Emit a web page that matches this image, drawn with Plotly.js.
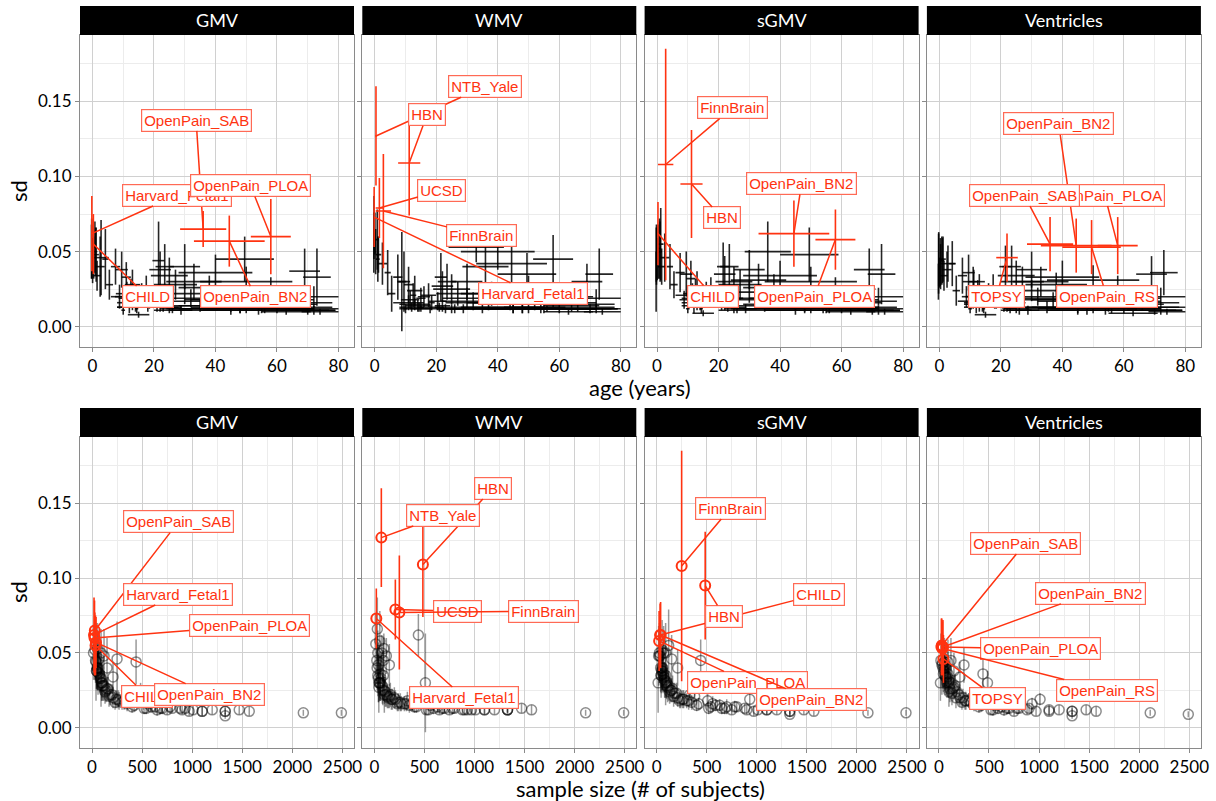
<!DOCTYPE html>
<html><head><meta charset="utf-8">
<script src="https://cdn.plot.ly/plotly-3.0.1.min.js"></script>
<style>html,body{margin:0;padding:0;background:#fff}#chart{width:1216px;height:801px}</style>
</head><body><div id="chart"></div>
<script>
// ---------------- DATA ----------------
const measures = ['GMV', 'WMV', 'sGMV', 'Ventricles'];
const studyNames = ['Harvard_Fetal1','CHILD','NTB_Yale','UCSD','FinnBrain','dHCP','BCP','IBIS','Infant_MGH','Harvard_Fetal2',
 'ONE','Preschool','Preschool2','Fetal3','HBN','CCNP','PING','ABCD','NIH_PD','PNC',
 'IMAGEN','ABIDE','ADHD200','CoRR','HCP_D','Kids_A','Kids_B','Kids_C','Kids_D','Teen_A',
 'Teen_B','Youth_A','TOPSY','HCP','YA_A','YA_B','YA_C','YA_D','YA_E','YA_F',
 'NKI','CamCAN','OpenPain_SAB','OpenPain_BN2','OpenPain_PLOA','OpenPain_RS','SALD','AOMIC','IXI','OASIS',
 'ADNI','UKB','AIBL','DLBS','Adult_A','Adult_B','Adult_C','Older_A','Older_B','Older_C',
 'Older_D','Life_A','Life_B','Life_C','Adult_D','Adult_E','Adult_F','Adult_G','Adult_H','Young_I',
 'K1','K2','K3','K4','K5','A1','A2','A3','A4','A5'];
const ageMean = [-0.2,0.3,0.4,1.5,2.8,0.05,1.2,1.0,0.8,-0.25,
 2.5,4.2,5.5,-0.3,11.2,8.8,12.0,10.0,11.0,15.0,
 14.4,13.0,11.5,18.0,14.0,9.5,11.0,13.0,7.5,16.0,
 17.5,20.5,22.0,28.8,21.5,23.5,25.0,27.0,30.0,32.0,
 35.0,54.0,36.0,44.5,58.0,49.5,45.0,23.0,48.0,70.0,
 74.0,63.0,72.0,52.0,40.0,38.0,50.0,69.0,73.0,72.0,
 66.0,45.0,50.0,56.0,58.0,30.0,37.0,64.0,26.0,21.0,
 12.5,15.0,18.5,22.0,25.0,33.0,44.0,60.0,48.0,55.0];
const ageSd = [0.05,0.15,0.25,1.2,2.5,0.05,0.9,0.6,0.5,0.05,
 1.5,1.0,1.2,0.04,3.6,1.5,4.0,0.6,5.0,3.5,
 0.5,5.0,3.0,10.0,4.0,2.0,1.5,2.5,1.5,2.0,
 2.5,3.0,3.5,3.7,2.0,3.0,6.0,7.0,8.0,10.0,
 20.0,18.0,7.5,11.5,6.5,9.5,17.0,2.0,16.0,9.0,
 6.0,8.0,7.0,20.0,12.0,10.0,15.0,5.0,4.5,8.0,
 12.0,25.0,22.0,21.0,13.0,5.0,14.0,9.0,4.0,1.5,
 1.0,1.5,1.0,2.5,4.0,9.0,14.0,18.0,24.0,25.0];
const sampleSize = [20,35,70,210,250,440,120,90,55,30,
 150,60,100,15,485,510,700,1100,380,1330,
 1470,560,330,930,630,45,80,110,65,200,
 150,260,45,1100,40,55,85,120,180,240,
 780,650,28,40,25,35,590,880,540,1330,
 2110,2490,1570,320,75,160,100,60,90,210,
 350,970,1200,1330,140,50,300,420,750,800,
 130,170,230,400,520,95,270,680,1010,900];
const gmvSd = [.062,.055,.046,.034,.046,.044,.048,.05,.053,.052,
 .04,.045,.028,.05,.022,.02,.013,.011,.02,.008,
 .012,.016,.019,.013,.014,.038,.033,.028,.04,.022,
 .026,.019,.038,.011,.044,.04,.034,.028,.022,.019,
 .014,.012,.065,.057,.06,.045,.014,.013,.013,.011,
 .01,.01,.011,.018,.036,.026,.03,.037,.033,.02,
 .016,.011,.012,.011,.025,.04,.017,.015,.012,.013,
 .024,.021,.017,.014,.013,.03,.018,.013,.012,.012];
const gmvErr = [.025,.02,.014,.01,.025,.015,.018,.016,.017,.02,
 .02,.02,.01,.018,.008,.008,.004,.003,.006,.002,
 .003,.005,.006,.003,.004,.012,.01,.01,.012,.007,
 .008,.006,.012,.003,.026,.015,.012,.01,.007,.006,
 .004,.004,.012,.017,.025,.015,.004,.003,.004,.003,
 .002,.002,.003,.006,.012,.008,.01,.015,.019,.007,
 .005,.003,.003,.002,.008,.015,.005,.004,.003,.003,
 .008,.007,.005,.004,.004,.012,.006,.004,.003,.003];
const wmvSd = [.073,.05,.127,.079,.077,.062,.048,.045,.058,.066,
 .042,.036,.022,.056,.109,.03,.013,.012,.016,.012,
 .013,.015,.018,.012,.014,.03,.028,.024,.033,.02,
 .021,.017,.027,.012,.033,.03,.025,.022,.019,.017,
 .013,.012,.04,.042,.045,.035,.013,.012,.012,.012,
 .01,.01,.012,.016,.05,.022,.025,.03,.035,.019,
 .015,.012,.012,.012,.02,.03,.016,.014,.012,.013,
 .021,.019,.016,.014,.012,.053,.016,.013,.012,.012];
const wmvErr = [.02,.015,.033,.02,.038,.014,.012,.015,.02,.021,
 .014,.015,.012,.02,.035,.033,.003,.003,.005,.002,
 .003,.004,.006,.003,.004,.02,.012,.01,.015,.007,
 .008,.006,.01,.003,.016,.012,.01,.008,.007,.006,
 .004,.003,.015,.015,.016,.014,.004,.003,.003,.003,
 .002,.002,.003,.005,.012,.008,.009,.012,.017,.006,
 .005,.003,.003,.002,.007,.012,.005,.004,.003,.003,
 .008,.007,.005,.004,.003,.01,.005,.004,.003,.003];
const sgmvSd = [.048,.062,.05,.04,.108,.045,.055,.05,.052,.048,
 .046,.04,.028,.03,.095,.018,.014,.012,.021,.009,
 .012,.016,.022,.019,.015,.035,.032,.027,.036,.023,
 .025,.019,.035,.012,.04,.04,.03,.028,.023,.019,
 .014,.013,.05,.062,.058,.048,.015,.013,.014,.011,
 .01,.01,.011,.018,.034,.026,.03,.038,.035,.02,
 .017,.011,.012,.011,.025,.038,.018,.016,.012,.014,
 .024,.021,.018,.015,.013,.031,.019,.013,.012,.012];
const sgmvErr = [.02,.021,.018,.012,.077,.014,.024,.02,.02,.018,
 .016,.015,.009,.02,.036,.006,.005,.003,.006,.002,
 .003,.005,.007,.004,.004,.015,.012,.01,.013,.007,
 .008,.006,.012,.003,.016,.015,.01,.01,.007,.006,
 .004,.004,.02,.022,.02,.018,.004,.003,.004,.003,
 .002,.002,.003,.006,.01,.009,.01,.014,.02,.006,
 .005,.003,.003,.002,.008,.013,.005,.004,.003,.003,
 .008,.007,.005,.004,.004,.011,.006,.004,.003,.003];
const ventSd = [.045,.043,.04,.034,.042,.036,.045,.044,.044,.042,
 .038,.042,.024,.03,.03,.02,.013,.012,.017,.008,
 .012,.015,.02,.016,.014,.036,.03,.026,.034,.022,
 .027,.018,.046,.011,.04,.04,.034,.03,.024,.02,
 .013,.012,.055,.054,.054,.053,.013,.012,.012,.011,
 .01,.009,.011,.017,.033,.028,.031,.035,.036,.02,
 .016,.011,.012,.011,.026,.038,.018,.015,.011,.013,
 .023,.02,.017,.014,.012,.03,.018,.013,.019,.013];
const ventErr = [.018,.016,.015,.01,.012,.01,.015,.015,.016,.02,
 .012,.015,.01,.012,.008,.007,.004,.003,.005,.002,
 .003,.005,.006,.004,.004,.012,.01,.009,.012,.007,
 .008,.006,.016,.003,.014,.014,.01,.01,.007,.006,
 .004,.004,.018,.018,.019,.018,.004,.003,.004,.003,
 .002,.002,.003,.005,.011,.008,.01,.012,.015,.006,
 .005,.003,.003,.002,.008,.012,.005,.004,.003,.003,
 .008,.007,.005,.004,.003,.01,.006,.004,.004,.003];
const sdByMeasure = {GMV: gmvSd, WMV: wmvSd, sGMV: sgmvSd, Ventricles: ventSd};
const errByMeasure = {GMV: gmvErr, WMV: wmvErr, sGMV: sgmvErr, Ventricles: ventErr};
const nHighlight = 5;
const xTitleTop = 'age (years)';
const xTitleBottom = 'sample size (# of subjects)';
const yTitle = 'sd';

// -------------- LABEL PLACEMENT (layout only) --------------
const labelPos = {
  top: {
    GMV: {OpenPain_SAB:[33.7,0.1376], Harvard_Fetal1:[27.6,0.0876], OpenPain_PLOA:[51.4,0.094], CHILD:[18,0.0198], OpenPain_BN2:[53,0.0198]},
    WMV: {NTB_Yale:[35.9,0.160], HBN:[17,0.141], UCSD:[21.8,0.0909], FinnBrain:[34.8,0.0607], Harvard_Fetal1:[51.5,0.022]},
    sGMV: {FinnBrain:[24.5,0.1458], HBN:[21.1,0.0724], OpenPain_BN2:[47,0.0953], CHILD:[18.2,0.0202], OpenPain_PLOA:[51.1,0.0202]},
    Ventricles: {OpenPain_BN2:[38.8,0.135], OpenPain_PLOA:[53.8,0.0876], OpenPain_SAB:[27.6,0.0876], TOPSY:[18.6,0.0202], OpenPain_RS:[54.4,0.0202]}
  },
  bottom: {
    GMV: {OpenPain_SAB:[864,0.1376], Harvard_Fetal1:[854,0.0893], OpenPain_PLOA:[1569,0.0682], CHILD:[550,0.0211], OpenPain_BN2:[1172,0.0222]},
    WMV: {HBN:[1183,0.16], NTB_Yale:[690,0.142], UCSD:[827,0.0778], FinnBrain:[1690,0.0778], Harvard_Fetal1:[900,0.02]},
    sGMV: {FinnBrain:[737,0.1467], CHILD:[1619,0.0893], HBN:[674,0.0744], OpenPain_PLOA:[905,0.0304], OpenPain_BN2:[1546,0.0189]},
    Ventricles: {OpenPain_SAB:[863,0.1233], OpenPain_BN2:[1517,0.09], OpenPain_PLOA:[1017,0.0527], OpenPain_RS:[1677,0.0249], TOPSY:[583,0.0196]}
  }
};

// ---------------- BUILD ----------------
const W = 1216, H = 801;
const RED = '#FF3311';
const FONT = 'Lato, "Open Sans", sans-serif';
const LABFONT = '"Liberation Sans", Arial, sans-serif';
const colLeft = [80, 362.3, 644.6, 926.9], colW = 274;
const rows = [{plot:[35,347], strip:[6,35]}, {plot:[437,748], strip:[408,437]}];
const yRange = [-0.0135, 0.1942];
const px = v => v / W, py = v => 1 - v / H;

const traces = [], annotations = [], shapes = [];
const layout = {
  width: W, height: H, margin: {l:0, r:0, t:0, b:0},
  paper_bgcolor: '#fff', plot_bgcolor: '#fff', showlegend: false,
  font: {family: FONT, color: '#000'}
};

measures.forEach((m, c) => {
  const sd = sdByMeasure[m], err = errByMeasure[m];
  const order = sd.map((v, i) => i).sort((a, b) => sd[b] - sd[a]);
  const hi = new Set(order.slice(0, nHighlight));
  const lo = sd.map((v, i) => i).filter(i => !hi.has(i));
  const hiIdx = [...hi];
  const pick = (arr, idx) => idx.map(i => arr[i]);

  [0, 1].forEach(r => {
    const k = r * 4 + c + 1;
    const xa = 'x' + (k === 1 ? '' : k), ya = 'y' + (k === 1 ? '' : k);
    const xKey = 'xaxis' + (k === 1 ? '' : k), yKey = 'yaxis' + (k === 1 ? '' : k);
    const dom = [px(colLeft[c]), px(colLeft[c] + colW)];
    const ydom = [py(rows[r].plot[1]), py(rows[r].plot[0])];
    const common = {
      showline: true, mirror: true, linecolor: '#8a8a8a', linewidth: 1,
      ticks: 'outside', ticklen: 4, tickcolor: '#8a8a8a', tickwidth: 1,
      showgrid: true, gridcolor: '#d0d0d0', gridwidth: 1, zeroline: false,
      tickfont: {family: FONT, size: 17, color: '#000'}, fixedrange: true
    };
    layout[xKey] = Object.assign({}, common, {
      domain: dom, anchor: ya,
      range: r === 0 ? [-4.05, 85.05] : [-120, 2616],
      tickmode: 'linear', tick0: 0, dtick: r === 0 ? 20 : 500,
      minor: {dtick: r === 0 ? 10 : 250, showgrid: true, gridcolor: '#ececec', gridwidth: 1, ticks: ''}
    });
    layout[yKey] = Object.assign({}, common, {
      domain: ydom, anchor: xa, range: yRange,
      tickmode: 'linear', tick0: 0, dtick: 0.05, tickformat: '.2f',
      showticklabels: c === 0, ticklen: 4,
      minor: {dtick: 0.025, showgrid: true, gridcolor: '#ececec', gridwidth: 1, ticks: ''}
    });

    if (r === 0) {
      [[lo, 'rgba(0,0,0,0.85)'], [hiIdx, RED]].forEach(([idx, col]) => {
        traces.push({
          type: 'scatter', mode: 'markers', xaxis: xa, yaxis: ya, hoverinfo: 'skip',
          x: pick(ageMean, idx), y: pick(sd, idx),
          marker: {size: 2, color: 'rgba(0,0,0,0)'},
          error_x: {type: 'data', array: pick(ageSd, idx), visible: true, width: 0, thickness: 1.6, color: col},
          error_y: {type: 'data', array: pick(err, idx), visible: true, width: 0, thickness: 1.6, color: col}
        });
      });
    } else {
      traces.push({
        type: 'scatter', mode: 'markers', xaxis: xa, yaxis: ya, hoverinfo: 'skip',
        x: pick(sampleSize, lo), y: pick(sd, lo),
        marker: {symbol: 'circle-open', size: 10, color: 'rgba(0,0,0,0.45)', line: {width: 1.5}},
        error_y: {type: 'data', array: pick(err, lo), visible: true, width: 0, thickness: 1.5, color: 'rgba(0,0,0,0.4)'}
      });
      traces.push({
        type: 'scatter', mode: 'markers', xaxis: xa, yaxis: ya, hoverinfo: 'skip',
        x: pick(sampleSize, hiIdx), y: pick(sd, hiIdx),
        marker: {symbol: 'circle-open', size: 10, color: RED, line: {width: 2}},
        error_y: {type: 'data', array: pick(err, hiIdx), visible: true, width: 0, thickness: 1.6, color: RED}
      });
    }

    // labels
    const pos = labelPos[r === 0 ? 'top' : 'bottom'][m];
    Object.keys(pos).forEach(name => {
      const i = studyNames.indexOf(name);
      if (!hi.has(i)) return;
      annotations.push({
        xref: xa, yref: ya, axref: xa, ayref: ya,
        x: r === 0 ? ageMean[i] : sampleSize[i], y: sd[i],
        ax: pos[name][0], ay: pos[name][1],
        text: name, showarrow: true, arrowhead: 0, arrowwidth: 1.5, arrowcolor: RED, standoff: 0,
        font: {family: LABFONT, size: 15, color: RED},
        bgcolor: '#fff', bordercolor: '#FF6A55', borderwidth: 1.2, borderpad: 2
      });
    });

    // strip
    shapes.push({type: 'rect', xref: 'paper', yref: 'paper',
      x0: dom[0], x1: dom[1], y0: py(rows[r].strip[1]), y1: py(rows[r].strip[0]),
      fillcolor: '#000', line: {width: 0}});
    annotations.push({xref: 'paper', yref: 'paper', x: (dom[0] + dom[1]) / 2,
      y: py((rows[r].strip[0] + rows[r].strip[1]) / 2), text: m, showarrow: false,
      xanchor: 'center', yanchor: 'middle', font: {family: FONT, size: 18, color: '#fff'}});
  });
});

// axis titles
[[xTitleTop, 387], [xTitleBottom, 788]].forEach(([t, y]) => annotations.push({
  xref: 'paper', yref: 'paper', x: px(640), y: py(y), text: t, showarrow: false,
  xanchor: 'center', yanchor: 'middle', font: {family: FONT, size: 22, color: '#000'}}));
[191, 592].forEach(y => annotations.push({
  xref: 'paper', yref: 'paper', x: px(18), y: py(y), text: yTitle, showarrow: false, textangle: -90,
  xanchor: 'center', yanchor: 'middle', font: {family: FONT, size: 22, color: '#000'}}));

layout.annotations = annotations;
layout.shapes = shapes;
Plotly.newPlot('chart', traces, layout, {displayModeBar: false, staticPlot: true});
</script></body></html>
